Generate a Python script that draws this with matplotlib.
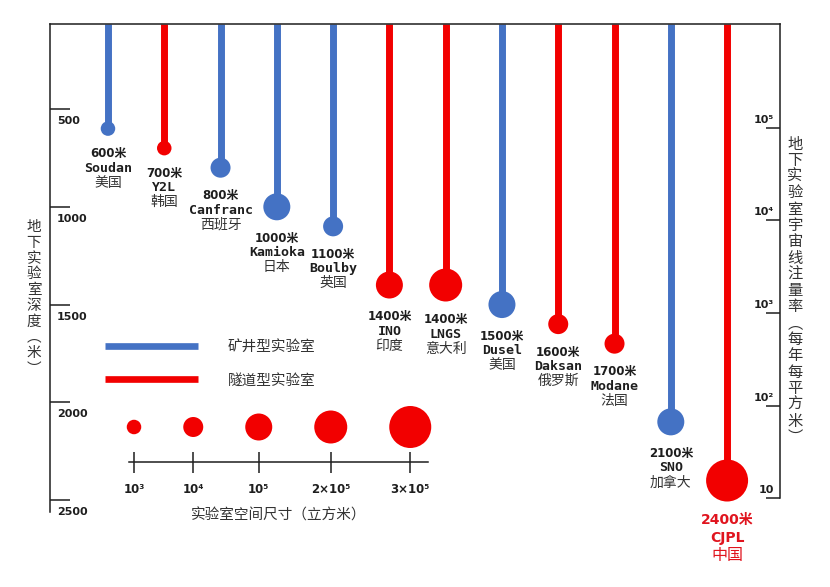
import matplotlib

matplotlib.use("Agg")
import matplotlib.pyplot as plt
import numpy as np
from matplotlib.lines import Line2D

plt.rcParams["font.family"] = ["DejaVu Sans", "Noto Sans CJK SC"]

# --- data -------------------------------------------------------------------
DEPTHS = [600, 700, 800, 1000, 1100, 1400, 1400, 1500, 1600, 1700, 2100, 2400]
LAB_NAMES = ["Soudan", "Y2L", "Canfranc", "Kamioka", "Boulby", "INO",
             "LNGS", "Dusel", "Daksan", "Modane", "SNO", "CJPL"]
COUNTRIES = ["美国", "韩国", "西班牙", "日本", "英国", "印度",
             "意大利", "美国", "俄罗斯", "法国", "加拿大", "中国"]
LAB_TYPES = ["mine", "tunnel", "mine", "mine", "mine", "tunnel",
             "tunnel", "mine", "tunnel", "tunnel", "mine", "tunnel"]
VOLUMES = [1e3, 1e3, 1e4, 1e5, 1e4, 1e5, 2e5, 1e5, 1e4, 1e4, 1e5, 3e5]

DEPTH_TICKS = [500, 1000, 1500, 2000, 2500]
FLUX_TICKS = [10, 1e2, 1e3, 1e4, 1e5]
FLUX_TICK_LABELS = ["10", "10²", "10³", "10⁴", "10⁵"]
SIZE_KEY_VOLUMES = [1e3, 1e4, 1e5, 2e5, 3e5]
SIZE_KEY_LABELS = ["10³", "10⁴", "10⁵", "2×10⁵", "3×10⁵"]
TYPE_ORDER = ["mine", "tunnel"]
TYPE_LABELS = {"mine": "矿井型实验室", "tunnel": "隧道型实验室"}

LEFT_TITLE = "地下实验室深度︵米︶"
RIGHT_TITLE = "地下实验室宇宙线注量率︵每年每平方米︶"
KEY_TITLE = "实验室空间尺寸（立方米）"

# --- style ------------------------------------------------------------------
TYPE_COLORS = {"mine": "#4472C4", "tunnel": "#F20000"}
MARKER_DIAMETER_PX = {1e3: 14.5, 1e4: 20, 1e5: 27, 2e5: 33, 3e5: 42}
HIGHLIGHT = "CJPL"
HIGHLIGHT_COLOR = "#E0141E"
INK = "#1e1e1e"
SOFT_INK = "#333333"
CJK = ["Noto Sans CJK SC"]
MONO = ["DejaVu Sans Mono", "Noto Sans CJK SC"]

W, H = 830, 587
PT = 72 / 100  # pixels -> points at dpi 100


def frame(x0, y0, x1, y1):
    """Pixel box (top-left origin) -> figure fraction rect."""
    return [x0 / W, 1 - y1 / H, (x1 - x0) / W, (y1 - y0) / H]


fig = plt.figure(figsize=(W / 100, H / 100), dpi=100)
fig.patch.set_facecolor("white")

# --- main axes: lab index vs depth -----------------------------------------
ax = fig.add_axes(frame(50, 24, 780, 512))
ax.set_xlim(-1.03, 11.94)
ax.set_ylim(2561, 65)
top_depth = ax.get_ylim()[1]

for spine in ("bottom", "right"):
    ax.spines[spine].set_visible(False)
for spine in ("left", "top"):
    ax.spines[spine].set_color(INK)
    ax.spines[spine].set_linewidth(1.1)
ax.set_xticks([])
ax.set_yticks(DEPTH_TICKS)
ax.tick_params(axis="y", direction="in", length=20 * PT, width=1.1,
               color=INK, labelleft=False)
for depth in DEPTH_TICKS:
    ax.annotate(f"{depth}", (0, depth), xycoords=ax.get_yaxis_transform(),
                xytext=(7 * PT, -12 * PT), textcoords="offset points",
                ha="left", va="center", fontsize=8, fontweight="bold",
                color=INK)

x = np.arange(len(DEPTHS))
colors = [TYPE_COLORS[t] for t in LAB_TYPES]
ax.vlines(x, top_depth, DEPTHS, colors=colors, linewidth=5, zorder=2)
sizes = [(MARKER_DIAMETER_PX[v] * PT) ** 2 for v in VOLUMES]
ax.scatter(x, DEPTHS, s=sizes, c=colors, linewidths=0, zorder=3)

for i, (depth, name, country, vol) in enumerate(
        zip(DEPTHS, LAB_NAMES, COUNTRIES, VOLUMES)):
    off = MARKER_DIAMETER_PX[vol] / 2 + 18
    big = name == HIGHLIGHT
    step = 18 if big else 14.5
    col = HIGHLIGHT_COLOR if big else INK
    common = dict(xycoords="data", textcoords="offset points",
                  ha="center", va="center", zorder=4)
    ax.annotate(f"{depth}米", (i, depth), xytext=(0, -off * PT),
                fontsize=10 if big else 8.5, fontweight="bold", color=col,
                **common)
    ax.annotate(name, (i, depth), xytext=(0, -(off + step) * PT),
                fontsize=10 if big else 9.5, fontweight="bold", color=col,
                family=["DejaVu Sans"] if big else MONO, **common)
    ax.annotate(country, (i, depth), xytext=(0, -(off + 2 * step) * PT),
                fontsize=11.5 if big else 10,
                color=HIGHLIGHT_COLOR if big else SOFT_INK, family=CJK,
                **common)

# --- right axis: cosmic-ray flux (log) -------------------------------------
ax2 = ax.twinx()
ax2.set_yscale("log")
ax2.set_ylim(10 ** 0.849, 10 ** 6.124)
for spine in ("bottom", "left", "top"):
    ax2.spines[spine].set_visible(False)
ax2.spines["right"].set_color(INK)
ax2.spines["right"].set_linewidth(1.1)
ax2.spines["right"].set_bounds(FLUX_TICKS[0], ax2.get_ylim()[1])
ax2.set_yticks(FLUX_TICKS)
ax2.yaxis.set_minor_locator(matplotlib.ticker.NullLocator())
ax2.tick_params(axis="y", direction="in", length=14 * PT, width=1.1,
                color=INK, labelright=False)
for val, lab in zip(FLUX_TICKS, FLUX_TICK_LABELS):
    ax2.annotate(lab, (1, val), xycoords=ax2.get_yaxis_transform(),
                 xytext=(-6 * PT, 8 * PT), textcoords="offset points",
                 ha="right", va="center", fontsize=8, fontweight="bold",
                 color=INK)

# --- lab type legend --------------------------------------------------------
handles = [Line2D([], [], color=TYPE_COLORS[t], linewidth=4.8,
                  solid_capstyle="butt") for t in TYPE_ORDER]
fig.legend(handles, [TYPE_LABELS[t] for t in TYPE_ORDER], loc="upper left",
           bbox_to_anchor=(105 / W, 1 - 340 / H), frameon=False,
           prop={"family": CJK, "size": 10.5}, labelcolor=SOFT_INK,
           handlelength=6.4, handletextpad=2.0, labelspacing=1.34,
           borderpad=0, borderaxespad=0)

# --- lab size key -----------------------------------------------------------
kax = fig.add_axes(frame(129, 400, 428, 462))
kax.set_xlim(0, 299)
kax.set_ylim(0, 62)
radii = np.array([MARKER_DIAMETER_PX[v] / 2 for v in SIZE_KEY_VOLUMES])
gap = 42
key_pos = 5 + np.concatenate([[0], np.cumsum(radii[:-1] + radii[1:] + gap)])
kax.scatter(key_pos, np.full(len(key_pos), 35),
            s=[(2 * r * PT) ** 2 for r in radii],
            c=TYPE_COLORS["tunnel"], linewidths=0, clip_on=False)
for spine in ("left", "right", "top"):
    kax.spines[spine].set_visible(False)
kax.spines["bottom"].set_color(INK)
kax.spines["bottom"].set_linewidth(1.1)
kax.set_yticks([])
kax.set_xticks(key_pos, SIZE_KEY_LABELS)
kax.tick_params(axis="x", direction="inout", length=21 * PT, width=1.1,
                color=INK, pad=7.5, labelsize=8.5, labelcolor=INK)
for lbl in kax.get_xticklabels():
    lbl.set_fontweight("bold")
kax.set_xlabel(KEY_TITLE, fontsize=10.5, family=CJK, color=SOFT_INK,
               labelpad=9)
kax.patch.set_alpha(0)

# --- stacked vertical axis titles -------------------------------------------
for k, ch in enumerate(LEFT_TITLE):
    fig.text(34 / W, 1 - (227 + k * 15.8) / H, ch, ha="center", va="center",
             fontsize=10.5, family=CJK, color=SOFT_INK)
for k, ch in enumerate(RIGHT_TITLE):
    fig.text(795 / W, 1 - (144 + k * 16.3) / H, ch, ha="center", va="center",
             fontsize=11, family=CJK, color=SOFT_INK)

fig.savefig("out.png", dpi=100, facecolor="white")
